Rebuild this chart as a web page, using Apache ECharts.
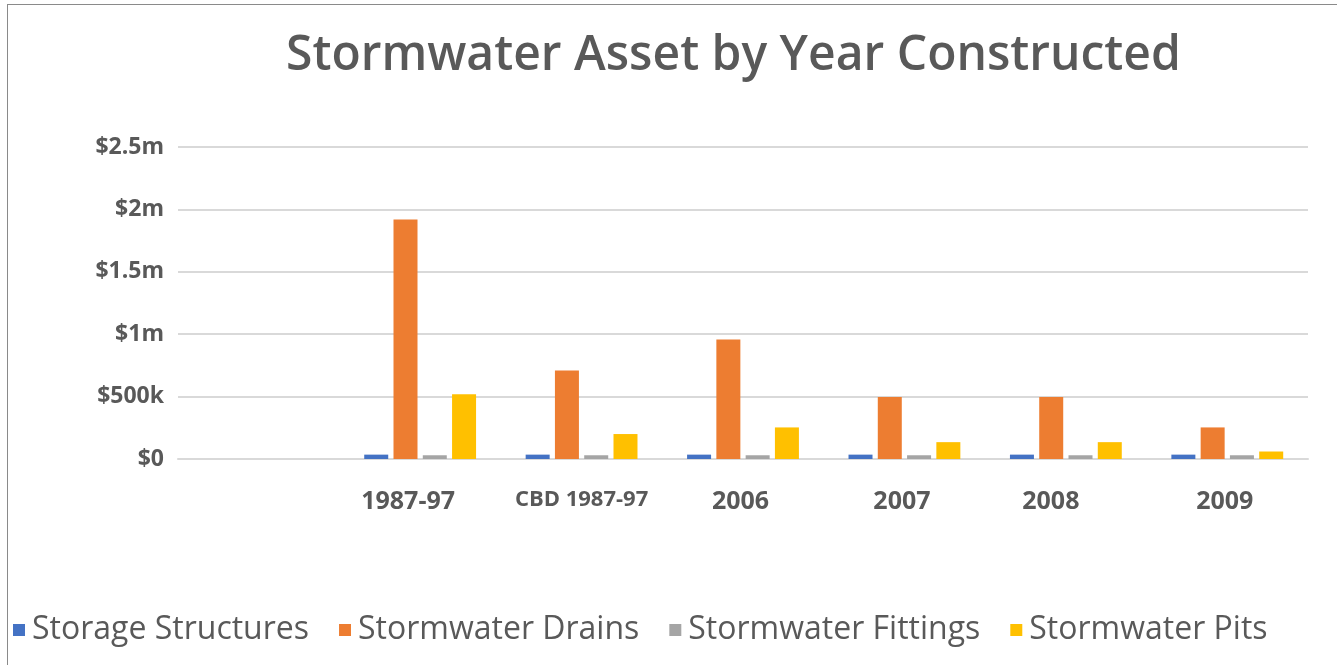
<!DOCTYPE html>
<html>
<head>
<meta charset="utf-8">
<script src="https://cdn.jsdelivr.net/npm/echarts@6/dist/echarts.min.js"></script>
<style>
  html, body { margin: 0; padding: 0; background: #fff; }
  #frame { position: absolute; left: 7px; top: 4px; width: 1330px; height: 661px; border-top: 1px solid #8a8a8a; border-left: 1px solid #8a8a8a; }
  #chart { position: absolute; left: 0; top: 0; width: 1337px; height: 665px; }
</style>
</head>
<body>
<div id="frame"></div>
<div id="chart"></div>
<script>
const categories = ["", "1987-97", "CBD 1987-97", "2006", "2007", "2008", "2009"];
const storageStructures = [null, 35000, 35000, 35000, 35000, 35000, 35000];
const stormwaterDrains = [null, 1920000, 710000, 957000, 497000, 497000, 253000];
const stormwaterFittings = [null, 30000, 30000, 30000, 30000, 30000, 30000];
const stormwaterPits = [null, 518000, 200000, 253000, 135000, 135000, 60000];
const seriesNames = ["Storage Structures", "Stormwater Drains", "Stormwater Fittings", "Stormwater Pits"];
const colors = ["#4472C4", "#ED7D31", "#A5A5A5", "#FFC000"];

const myChart = echarts.init(document.getElementById("chart"));

const fmtMoney = (v) => {
  if (v === 0) return "$0";
  if (v >= 1000000) return "$" + (v / 1000000) + "m";
  return "$" + (v / 1000) + "k";
};

// label text style per category (the small CBD label and small left nudges)
const labelStyle = ["n", "a", "s", "b", "b", "c", "b"];

const baseLabel = {
  fontFamily: "Open Sans",
  fontWeight: "bold",
  fontSize: 25,
  color: "#595959",
};

const makeBar = (name, data, i) => ({
  name,
  type: "bar",
  data,
  barWidth: 24,
  barGap: "22%",
  itemStyle: { color: colors[i] },
});

const option = {
  animation: false,
  backgroundColor: "transparent",
  title: {
    text: "Stormwater Asset by Year Constructed",
    left: 281,
    top: 27,
    textStyle: {
      fontFamily: "Open Sans",
      fontWeight: 600,
      fontSize: 48,
      color: "#595959",
    },
  },
  legend: {
    left: 8,
    top: 609,
    itemWidth: 12,
    itemHeight: 12,
    itemGap: 30,
    icon: "rect",
    textStyle: {
      fontFamily: "Open Sans",
      fontSize: 32,
      color: "#595959",
      padding: [0, 0, 0, 2],
    },
    data: seriesNames,
  },
  grid: {
    left: 178,
    right: 29,
    top: 147,
    bottom: 206,
  },
  xAxis: {
    type: "category",
    data: categories,
    axisLine: { lineStyle: { color: "#d9d9d9", width: 2 } },
    axisTick: { show: false },
    axisLabel: {
      margin: 30,
      interval: 0,
      formatter: (v, idx) => "{" + labelStyle[idx] + "|" + v + "}",
      rich: {
        n: Object.assign({}, baseLabel),
        a: Object.assign({}, baseLabel, { padding: [0, 24, 0, 0] }),
        b: Object.assign({}, baseLabel, { padding: [0, 5, 0, 0] }),
        c: Object.assign({}, baseLabel, { padding: [0, 30, 0, 0] }),
        s: Object.assign({}, baseLabel, { fontSize: 22 }),
      },
    },
  },
  yAxis: {
    type: "value",
    min: 0,
    max: 2500000,
    interval: 500000,
    axisLine: { show: false },
    axisTick: { show: false },
    splitLine: { lineStyle: { color: "#d9d9d9", width: 2 } },
    axisLabel: {
      margin: 14,
      fontFamily: "Open Sans",
      fontWeight: "bold",
      fontSize: 23,
      color: "#595959",
      formatter: fmtMoney,
    },
  },
  series: [
    makeBar(seriesNames[0], storageStructures, 0),
    makeBar(seriesNames[1], stormwaterDrains, 1),
    makeBar(seriesNames[2], stormwaterFittings, 2),
    makeBar(seriesNames[3], stormwaterPits, 3),
  ],
};

myChart.setOption(option, true);
</script>
</body>
</html>
